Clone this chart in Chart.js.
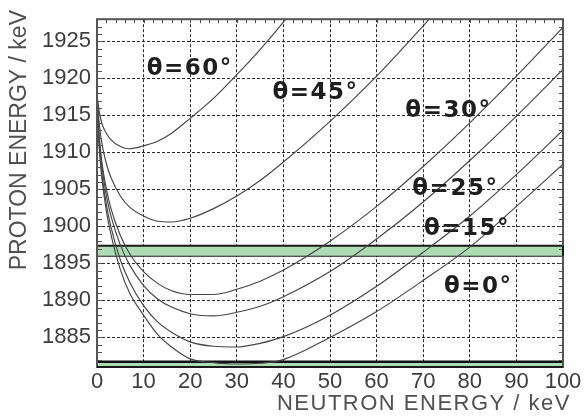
<!DOCTYPE html>
<html><head><meta charset="utf-8">
<script src="https://cdn.jsdelivr.net/npm/chart.js@4/dist/chart.umd.min.js"></script>
<style>html,body{margin:0;padding:0;background:#fff}#wrap{width:584px;height:418px}</style>
</head><body><div id="wrap"><canvas id="c" width="584" height="418"></canvas></div>
<script>
// Neutron energy (keV) sample points
const neutronEnergy = [0,0.25,0.5,1,2,3,5,7,10,13,16,20,25,30,35,40,50,60,70,80,90,100];
const neutronEnergy45 = [0,0.25,0.5,1,2,3,5,7,10,13,16,20,25,30,35,40,50,60,70,72];
const neutronEnergy60 = [0,0.25,0.5,1,2,3,5,7,10,13,16,20,25,30,35,40,41];
// Proton energy (keV) for each emission angle
const theta0  = [1918.0,1913.0,1910.4,1906.8,1902.1,1898.9,1894.2,1891.0,1888.0,1885.4,1883.7,1882.1,1881.6,1881.4,1881.5,1882.0,1885.0,1888.5,1892.7,1897.2,1902.7,1908.4];
const theta15 = [1918.0,1913.4,1910.9,1907.4,1903.0,1899.9,1895.5,1892.5,1889.3,1887.1,1885.7,1884.4,1883.8,1883.7,1884.2,1885.1,1888.0,1891.9,1896.5,1901.4,1907.0,1913.0];
const theta25 = [1918.0,1913.9,1911.5,1908.4,1904.2,1901.4,1897.5,1894.8,1892.0,1890.2,1889.1,1888.2,1887.9,1888.4,1889.2,1890.5,1893.9,1898.3,1903.3,1908.9,1914.9,1921.2];
const theta30 = [1918.0,1914.2,1912.0,1908.9,1905.1,1902.4,1898.8,1896.3,1893.9,1892.3,1891.3,1890.8,1890.8,1891.5,1892.6,1894.1,1898.0,1902.7,1908.1,1914.0,1920.3,1926.9];
const theta45 = [1918.0,1915.6,1913.8,1911.4,1908.5,1906.6,1904.1,1902.6,1901.4,1900.7,1900.6,1901.1,1902.4,1904.1,1906.2,1908.7,1914.2,1920.3,1927.1,1928.5];
const theta60 = [1918.0,1916.5,1915.5,1914.0,1912.6,1911.7,1910.8,1910.5,1910.9,1911.5,1912.6,1914.6,1917.3,1920.5,1923.9,1927.6,1928.4];
// Curve labels and their anchor positions (data units)
const angleLabels = ['θ=0°','θ=15°','θ=25°','θ=30°','θ=45°','θ=60°'];
const labelEn = [81.8,79.4,76.9,75.4,46.9,19.9];
const labelEp = [1891.8,1899.6,1905.0,1915.6,1918.0,1921.2];
// Shaded proton-energy bands (keV)
const bandLow  = [1896.05, 1881.0];
const bandHigh = [1897.37, 1881.7];
// Axes
const xTickValues = [0,10,20,30,40,50,60,70,80,90,100];
const yTickValues = [1885,1890,1895,1900,1905,1910,1915,1920,1925];
const xRange = [0,100];
const yRange = [1881.0,1928.0];

const pts = (xs, ys) => xs.map((x,i)=>({x:x, y:ys[i]}));
const curveStyle = {showLine:true, pointRadius:0, borderColor:'#454545', borderWidth:1.15, cubicInterpolationMode:'monotone', fill:false};
const bandLine = (v) => xRange.map(x=>({x:x, y:v}));

const datasets = [
  Object.assign({data:pts(neutronEnergy, theta0)}, curveStyle),
  Object.assign({data:pts(neutronEnergy, theta15)}, curveStyle),
  Object.assign({data:pts(neutronEnergy, theta25)}, curveStyle),
  Object.assign({data:pts(neutronEnergy, theta30)}, curveStyle),
  Object.assign({data:pts(neutronEnergy45, theta45)}, curveStyle),
  Object.assign({data:pts(neutronEnergy60, theta60)}, curveStyle),
  // upper band
  {data:bandLine(bandHigh[0]), showLine:true, pointRadius:0, borderColor:'#1a1a1a', borderWidth:2, fill:'+1', backgroundColor:'#addcb4'},
  {data:bandLine(bandLow[0]), showLine:true, pointRadius:0, borderColor:'#1a1a1a', borderWidth:2, fill:false},
  // lower band
  {data:bandLine(bandHigh[1]), showLine:true, pointRadius:0, borderColor:'#111', borderWidth:2.5, fill:'start', backgroundColor:'#addcb4'}
];

const decor = {
  id:'decor',
  afterDatasetsDraw(chart){
    const {ctx, chartArea:a, scales:{x, y}} = chart;
    ctx.save();
    // minor ticks
    ctx.strokeStyle = '#555'; ctx.lineWidth = 1;
    ctx.beginPath();
    for (let v = Math.ceil(yRange[0]); v <= yRange[1]; v += 1) {
      const py = Math.round(y.getPixelForValue(v)) + 0.5;
      ctx.moveTo(a.left, py); ctx.lineTo(a.left + 5, py);
      ctx.moveTo(a.right, py); ctx.lineTo(a.right - 4, py);
    }
    for (let v = xRange[0]; v <= xRange[1]; v += 2) {
      const px = Math.round(x.getPixelForValue(v)) + 0.5;
      ctx.moveTo(px, a.top); ctx.lineTo(px, a.top + 4);
    }
    ctx.stroke();
    // frame
    ctx.strokeStyle = '#555'; ctx.lineWidth = 2;
    ctx.strokeRect(a.left, a.top, a.right - a.left, a.bottom - a.top);
    // band right edge
    ctx.strokeStyle = '#1a1a1a';
    ctx.beginPath();
    ctx.moveTo(a.right, y.getPixelForValue(bandHigh[0])); ctx.lineTo(a.right, y.getPixelForValue(bandLow[0]));
    ctx.moveTo(a.left, a.bottom); ctx.lineTo(a.right, a.bottom);
    ctx.stroke();
    // curve labels
    ctx.fillStyle = '#1e1e1e';
    ctx.font = 'bold 23px "DejaVu Sans"';
    ctx.letterSpacing = '1.5px';
    ctx.textAlign = 'center'; ctx.textBaseline = 'middle';
    angleLabels.forEach((t,i)=>{
      ctx.fillText(t, x.getPixelForValue(labelEn[i]), y.getPixelForValue(labelEp[i]));
    });
    ctx.restore();
  },
  afterDraw(chart){
    const {ctx} = chart;
    ctx.save();
    ctx.fillStyle = '#505050';
    ctx.font = '22px "Liberation Sans"';
    ctx.letterSpacing = '1.5px';
    ctx.textAlign = 'right'; ctx.textBaseline = 'middle';
    ctx.fillText('NEUTRON ENERGY / keV', 571, 404);
    ctx.translate(20, 10);
    ctx.rotate(-Math.PI/2);
    ctx.font = '23px "Liberation Sans"';
    ctx.letterSpacing = '0px';
    ctx.fillText('PROTON ENERGY / keV', 0, 0);
    ctx.restore();
  }
};

new Chart(document.getElementById('c'), {
  type:'scatter',
  data:{datasets:datasets},
  plugins:[decor],
  options:{
    responsive:false, animation:false, devicePixelRatio:1,
    layout:{padding:{top:9,right:21,left:0,bottom:0}},
    plugins:{legend:{display:false}, tooltip:{enabled:false}},
    scales:{
      x:{type:'linear', min:xRange[0], max:xRange[1],
         afterFit(s){s.height = 51;},
         afterBuildTicks(s){s.ticks = xTickValues.map(v=>({value:v}));},
         grid:{color:'#2a2a2a', lineWidth:1, drawTicks:false},
         border:{display:false, dash:[3,2]},
         ticks:{font:{family:'Liberation Sans', size:22}, color:'#3c3c3c', padding:2, maxRotation:0, autoSkip:false,
                callback:(v)=>String(v)}},
      y:{type:'linear', min:yRange[0], max:yRange[1],
         afterFit(s){s.width = 97;},
         afterBuildTicks(s){s.ticks = yTickValues.map(v=>({value:v}));},
         grid:{color:'#2a2a2a', lineWidth:1, drawTicks:false},
         border:{display:false, dash:[3,2]},
         ticks:{font:{family:'Liberation Sans', size:22}, color:'#3c3c3c', padding:6, autoSkip:false,
                callback:(v)=>String(v)}}
    }
  }
});
</script></body></html>
